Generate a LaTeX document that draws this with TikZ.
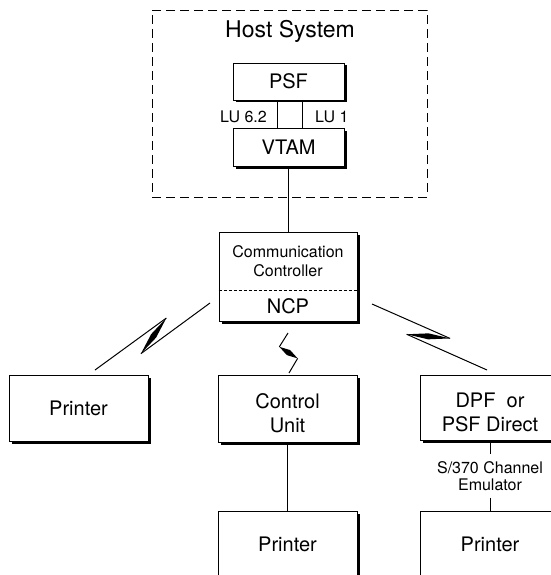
\documentclass[tikz,border=0pt]{standalone}
\usepackage{fontspec}
\setmainfont{TeX Gyre Heros}
\usetikzlibrary{calc}
\usetikzlibrary{shadows}

% lightning link: #1 start, #2 end, #3 1 = stroke runs back, 0 = stroke runs on
\newcommand{\bolt}[3]{%
\coordinate (tipa) at ($(#1)!0.34!(#2)!9pt!-90:(#2)$);
\coordinate (tipb) at ($(#1)!0.64!(#2)!9pt!90:(#2)$);
\ifnum#3=1
  \draw [zigzag] (#1) -- (tipb) (tipa) -- (#2);
\else
  \draw [zigzag] (#1) -- (tipa) (tipb) -- (#2);
\fi
\fill (tipa) -- ($(tipa)!0.5!(tipb)!3pt!90:(tipb)$) -- (tipb) -- ($(tipa)!0.5!(tipb)!3pt!-90:(tipb)$) -- cycle;
}

\begin{document}
\begin{tikzpicture}[x=1pt, y=-1pt,
unitbox/.style={draw, fill=white, line width=.7pt, inner sep=0pt, align=center,
  minimum width=139pt, minimum height=66pt, font=\fontsize{20}{24}\selectfont,
  drop shadow={shadow xshift=2.5pt, shadow yshift=-2.5pt, fill=black, opacity=1}},
twoline/.style={text height=48pt},
smalltext/.style={inner sep=0pt, align=center, font=\fontsize{16}{18}\selectfont},
link/.style={line width=.7pt},
zigzag/.style={line width=1pt}]

%%%%%% SETTINGS %%%%%%%%%%

\useasboundingbox (0,0) rectangle (550,575);

%%%%%% HOST %%%%%%%%%%

\node [draw, dash pattern=on 9pt off 5pt, line width=.7pt, minimum width=275pt, minimum height=187pt] (host) at (289.5,103.5) {};
\node [anchor=base, font=\fontsize{23}{27}\selectfont] (hostname) at (290,38) {Host System};

\node [unitbox, minimum width=111pt, minimum height=37pt] (psf) at (288.5,81.5) {PSF};
\node [unitbox, minimum width=111pt, minimum height=38pt] (vtam) at (288.5,147) {VTAM};
\draw [link] ([xshift=-11.5pt]psf.south) -- ([xshift=-11.5pt]vtam.north);
\draw [link] ([xshift=13.5pt]psf.south) -- ([xshift=13.5pt]vtam.north);
\node [smalltext, anchor=base east] (lusix) at (267,122) {LU 6.2};
\node [smalltext, anchor=base west] (luone) at (315,122) {LU 1};

%%%%%% CONTROLLER %%%%%%%%%%

\node [unitbox, minimum width=138pt, minimum height=89pt] (ctrl) at (288,276.5) {};
\node [smalltext, font=\fontsize{16}{19}\selectfont] (ctrlname) at (288,261.5) {Communication\\Controller};
\draw [dash pattern=on 3pt off 2pt, line width=.6pt] (ctrl.west |- 0,290) -- (ctrl.east |- 0,290);
\node [font=\fontsize{20}{24}\selectfont, inner sep=0pt] (ncp) at (288,306.5) {NCP};
\draw [link] (vtam.south) -- (vtam.south |- ctrl.north);

%%%%%% DEVICES %%%%%%%%%%

\node [unitbox] (prtleft) at (78.5,408) {Printer};
\node [unitbox, twoline, minimum height=67pt] (cu) at (287.5,408.5) {Control\\Unit};
\node [unitbox, twoline, minimum width=140pt, minimum height=65pt] (dpf) at (490,407.5) {DPF~ or\\PSF Direct};
\node [unitbox] (prtcu) at (287.5,544) {Printer};
\node [unitbox, minimum width=140pt] (prtdpf) at (490,544) {Printer};
\node [smalltext, inner sep=7pt, font=\fontsize{16}{16.5}\selectfont] (emul) at (490,476) {S/370 Channel\\Emulator};

\draw [link] (cu.south) -- (prtcu.north);
\draw [link] (dpf.south) -- (emul.north);
\draw [link] (emul.south) -- (prtdpf.north);

%%%%%% LINKS %%%%%%%%%%

\coordinate (leftfrom) at (210,303);
\coordinate (leftto) at (95,370);
\coordinate (midfrom) at (288,333);
\coordinate (midto) at (289,373);
\coordinate (rightfrom) at (372,304);
\coordinate (rightto) at (487,370);
\bolt{leftfrom}{leftto}{1}
\bolt{midfrom}{midto}{0}
\bolt{rightfrom}{rightto}{1}
\end{tikzpicture}
\end{document}
